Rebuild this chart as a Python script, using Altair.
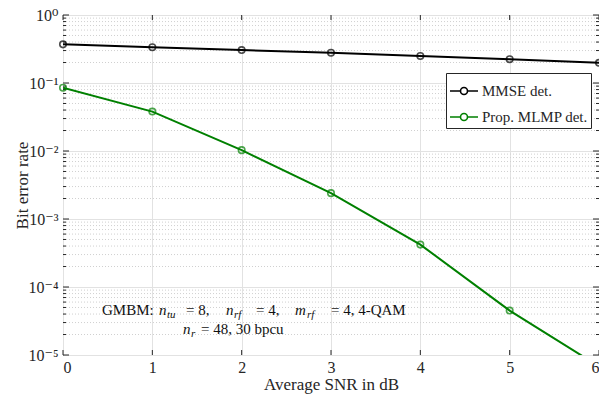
import altair as alt
import pandas as pd

# ---------------- data ----------------
snr_db = [0, 1, 2, 3, 4, 5, 6]
mmse_ber = [0.37, 0.335, 0.305, 0.278, 0.25, 0.224, 0.198]
mlmp_ber = [0.085, 0.038, 0.0103, 0.0024, 4.2e-4, 4.5e-5, 6.8e-6]
series_names = ["MMSE det.", "Prop. MLMP det."]
series_colors = ["#000000", "#008000"]
x_ticks = [0, 1, 2, 3, 4, 5, 6]
y_decades = [1, 0.1, 0.01, 1e-3, 1e-4, 1e-5]

# ---------------- layout ----------------
W, H = 536, 340
FONT = "'Liberation Serif', 'DejaVu Serif', serif"
AXC = "#262626"

rows = []
for s, vals in zip(series_names, [mmse_ber, mlmp_ber]):
    for x, v in zip(snr_db, vals):
        rows.append({"snr": x, "ber": v, "series": s})
df = pd.DataFrame(rows)

minor_vals = [m * d for d in y_decades[1:] for m in range(2, 10)]
df_minor = pd.DataFrame({"v": minor_vals})
df_major = pd.DataFrame({"v": y_decades})
df_xt = pd.DataFrame({"v": x_ticks})

xscale = alt.Scale(domain=[0, 6], nice=False, zero=False)
yscale = alt.Scale(type="log", domain=[1e-5, 1], nice=False)

xaxis = alt.Axis(values=x_ticks, grid=True, gridColor="#e2e2e2", gridWidth=1,
                 ticks=False, domain=False, labelFont=FONT, labelFontSize=16,
                 labelColor=AXC, labelPadding=4, titleFont=FONT, titleFontSize=17,
                 titleFontWeight="normal", titleColor=AXC, titlePadding=1, format="d")
exprs = ["10⁰", "10⁻¹", "10⁻²", "10⁻³", "10⁻⁴", "10⁻⁵"]
label_expr = "[" + ",".join("'%s'" % e for e in exprs) + "][round(-log(datum.value)/LN10)]"
yaxis = alt.Axis(values=y_decades, grid=True, gridColor="#e2e2e2", gridWidth=1,
                 ticks=False, domain=False, labelExpr=label_expr, labelFont=FONT,
                 labelFontSize=16, labelColor=AXC, labelPadding=5, titleFont=FONT,
                 titleFontSize=17, titleFontWeight="normal", titleColor=AXC,
                 titleX=-41, titleY=H / 2, titleBaseline="middle", titleAlign="center")


def X(field):
    return alt.X(field, type="quantitative", scale=xscale, axis=xaxis, title="Average SNR in dB")


def Y(field):
    return alt.Y(field, type="quantitative", scale=yscale, axis=yaxis, title="Bit error rate")


minor_grid = alt.Chart(df_minor).mark_rule(color="#d0d0d0", strokeWidth=1, strokeDash=[1, 2]).encode(
    y=Y("v"), x=alt.value(0), x2=alt.value(W))

legend_path = ("M-1,0H-0.25M0.25,0H1M-0.25,0A0.25,0.25 0 1,1 0.25,0"
               "A0.25,0.25 0 1,1 -0.25,0")
color_scale = alt.Scale(domain=series_names, range=series_colors)

lines = alt.Chart(df).mark_line(clip=True, strokeWidth=2).encode(
    x=X("snr"), y=Y("ber"),
    color=alt.Color("series:N", scale=color_scale, sort=series_names,
                    legend=alt.Legend(orient="none", legendX=383, legendY=58, title=None,
                                      symbolType=legend_path, symbolSize=784,
                                      symbolStrokeWidth=1.6, symbolFillColor="transparent",
                                      labelFont=FONT, labelFontSize=15, labelColor=AXC,
                                      labelLimit=400, labelOffset=3, padding=3,
                                      rowPadding=3, strokeColor=AXC, fillColor="white",
                                      cornerRadius=0)))

points = alt.Chart(df).transform_filter("datum.ber >= 1e-5").mark_point(
    shape="circle", filled=False, size=42, strokeWidth=1.6, clip=False).encode(
    x=X("snr"), y=Y("ber"),
    color=alt.Color("series:N", scale=color_scale, legend=None))

# inward ticks (box style)
tick_layers = [
    alt.Chart(df_xt).mark_rule(color=AXC).encode(x=X("v"), y=alt.value(H), y2=alt.value(H - 5)),
    alt.Chart(df_xt).mark_rule(color=AXC).encode(x=X("v"), y=alt.value(0), y2=alt.value(5)),
    alt.Chart(df_major).mark_rule(color=AXC).encode(y=Y("v"), x=alt.value(0), x2=alt.value(6)),
    alt.Chart(df_major).mark_rule(color=AXC).encode(y=Y("v"), x=alt.value(W), x2=alt.value(W - 6)),
    alt.Chart(df_minor).mark_rule(color=AXC).encode(y=Y("v"), x=alt.value(0), x2=alt.value(3)),
    alt.Chart(df_minor).mark_rule(color=AXC).encode(y=Y("v"), x=alt.value(W), x2=alt.value(W - 3)),
]

# annotation text (segments: text, x, y, size, italic)
base1, base2 = 300, 319
segments = [
    ("GMBM:", 39, base1, 15, False),
    ("n", 96, base1, 15, True),
    ("tu", 104, base1 + 3, 11, True),
    ("= 8,", 123, base1, 15, False),
    ("n", 163, base1, 15, True),
    ("rf", 171, base1 + 3, 11, True),
    ("= 4,", 193, base1, 15, False),
    ("m", 232, base1, 15, True),
    ("rf", 244, base1 + 3, 11, True),
    ("= 4, 4-QAM", 268, base1, 15, False),
    ("n", 120, base2, 15, True),
    ("r", 128, base2 + 3, 11, True),
    ("= 48, 30 bpcu", 138, base2, 15, False),
]
text_layers = []
for t, px, py, sz, it in segments:
    text_layers.append(
        alt.Chart(df_major).transform_filter("datum.v == 1").mark_text(
            align="left", baseline="alphabetic", font=FONT, fontSize=sz,
            fontStyle="italic" if it else "normal", color="#111111").encode(
            x=alt.value(px), y=alt.value(py), text=alt.value(t)))

chart = alt.layer(minor_grid, *tick_layers, lines, points, *text_layers).properties(
    width=W, height=H,
    autosize=alt.AutoSizeParams(type="none"),
    padding={"left": 55, "top": 7, "right": 0, "bottom": 39},
    background="white",
).configure_view(stroke=AXC, strokeWidth=1)

chart.save("out.html", embed_options={"renderer": "svg", "actions": False})
